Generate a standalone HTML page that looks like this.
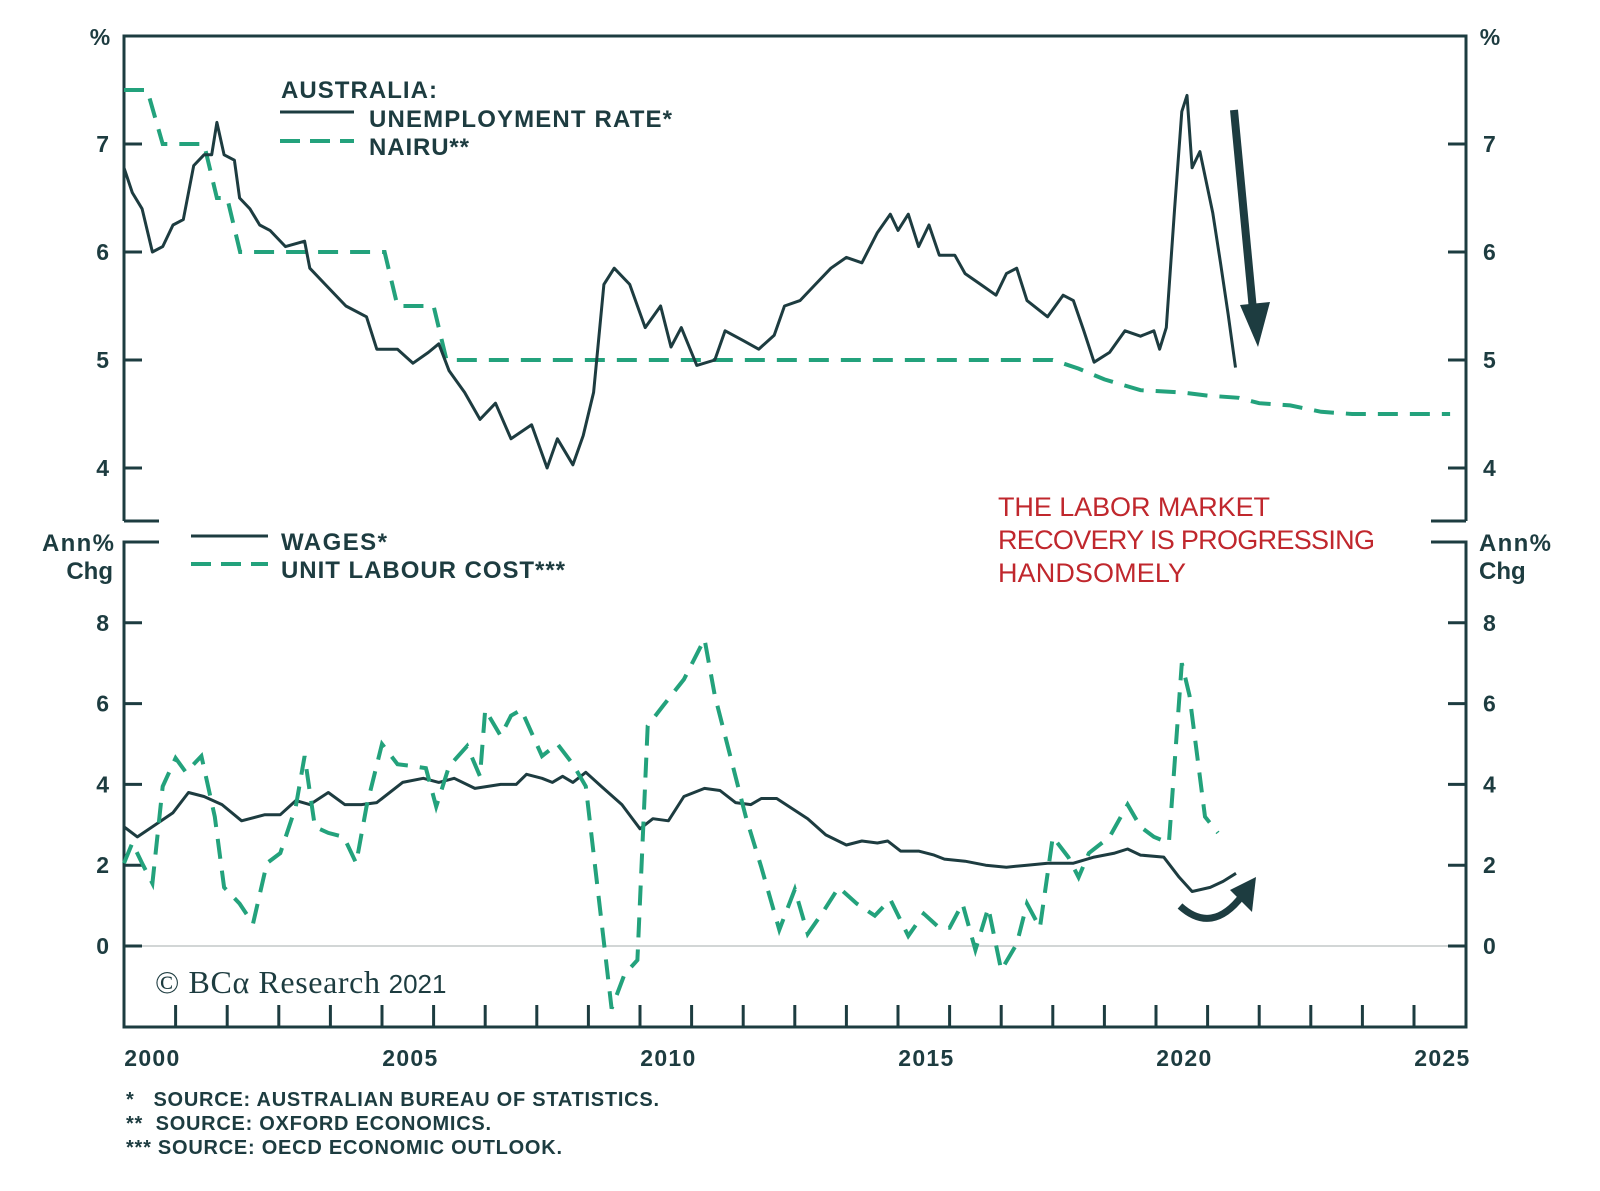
<!DOCTYPE html>
<html><head><meta charset="utf-8"><style>
html,body{margin:0;padding:0;background:#fff;}
svg{display:block;font-family:"Liberation Sans",Arial,sans-serif;}
.t{font-weight:bold;font-size:23px;fill:#1d3c40;}
.u{font-weight:bold;font-size:24px;fill:#1d3c40;}
.lg{font-weight:bold;font-size:24px;fill:#1d3c40;}
.fn{font-weight:bold;font-size:20px;fill:#1d3c40;}
.red{font-size:27px;fill:#c0272d;}
</style></head><body>
<svg id="chart" width="1600" height="1191" viewBox="0 0 1600 1191">
<g id="frame" stroke="#1d3c40" stroke-width="3" fill="none">
  <path d="M124 521 L124 36 L1466 36 L1466 521"/>
  <path d="M124 521 L159 521 M1466 521 L1431 521"/>
  <path d="M159 542 L124 542 L124 1027 L1466 1027 L1466 542 L1431 542"/>
</g>
<line x1="124" y1="946" x2="1466" y2="946" stroke="#c4c8c8" stroke-width="1.5"/>
<g id="ticks"></g>
<g id="series"></g>

<text class="t" x="100" y="45" text-anchor="middle">%</text>
<text class="t" x="1490" y="45" text-anchor="middle">%</text>
<text class="u" x="114" y="551" text-anchor="end" textLength="72">Ann%</text>
<text class="u" x="113" y="579" text-anchor="end">Chg</text>
<text class="u" x="1479" y="551" textLength="72">Ann%</text>
<text class="u" x="1479" y="579">Chg</text>

<g>
  <text class="lg" x="281" y="98" textLength="156">AUSTRALIA:</text>
  <line x1="280" y1="112" x2="354" y2="112" stroke="#1d3c40" stroke-width="3"/>
  <text class="lg" x="369" y="127" textLength="303">UNEMPLOYMENT RATE*</text>
  <line x1="280" y1="141" x2="354" y2="141" stroke="#23a27c" stroke-width="4" stroke-dasharray="20 10"/>
  <text class="lg" x="369" y="155" textLength="100">NAIRU**</text>
</g>
<g>
  <line x1="191" y1="536" x2="268" y2="536" stroke="#1d3c40" stroke-width="3"/>
  <text class="lg" x="281" y="550" textLength="106">WAGES*</text>
  <line x1="191" y1="564" x2="268" y2="564" stroke="#23a27c" stroke-width="4" stroke-dasharray="20 10"/>
  <text class="lg" x="281" y="578" textLength="284">UNIT LABOUR COST***</text>
</g>
<g>
  <text class="red" x="998" y="516" textLength="272">THE LABOR MARKET</text>
  <text class="red" x="998" y="549" textLength="377">RECOVERY IS PROGRESSING</text>
  <text class="red" x="998" y="582" textLength="188">HANDSOMELY</text>
</g>
<g>
  <line x1="1234" y1="110" x2="1253" y2="310" stroke="#1d3c40" stroke-width="8"/>
  <polygon points="1240,305 1270,302 1258,347" fill="#1d3c40"/>
</g>
<g>
  <path d="M1180 906 Q1212 935 1242 896" stroke="#1d3c40" stroke-width="7" fill="none"/>
  <polygon points="1230,890 1256,877 1252,912" fill="#1d3c40"/>
</g>
<text x="155" y="993" style="font-family:'Liberation Serif',serif;font-size:32px;fill:#1d3c40;"><tspan textLength="225">© BCα Research</tspan> <tspan style="font-family:'Liberation Sans',sans-serif;font-size:26px;">2021</tspan></text>
<g>
  <text class="fn" x="126" y="1106" textLength="533">*&#160;&#160; SOURCE: AUSTRALIAN BUREAU OF STATISTICS.</text>
  <text class="fn" x="126" y="1130" textLength="365">**&#160; SOURCE: OXFORD ECONOMICS.</text>
  <text class="fn" x="126" y="1154" textLength="436">*** SOURCE: OECD ECONOMIC OUTLOOK.</text>
</g>
</svg>
<script>
const topTicks = [4, 5, 6, 7];
const bottomTicks = [0, 2, 4, 6, 8];
const xLabels = [2000, 2005, 2010, 2015, 2020, 2025];
const unempYears = [2000,2000.16,2000.35,2000.55,2000.75,2000.95,2001.15,2001.35,2001.55,2001.7,2001.8,2001.94,2002.14,2002.24,2002.44,2002.63,2002.83,2003.13,2003.5,2003.6,2003.9,2004.3,2004.7,2004.9,2005.3,2005.6,2005.9,2006.1,2006.3,2006.6,2006.9,2007.2,2007.5,2007.9,2008.2,2008.4,2008.7,2008.9,2009.1,2009.3,2009.5,2009.8,2010.1,2010.4,2010.6,2010.8,2011.1,2011.45,2011.65,2012.0,2012.3,2012.6,2012.8,2013.1,2013.4,2013.7,2014.0,2014.3,2014.6,2014.85,2015.0,2015.2,2015.4,2015.6,2015.8,2016.1,2016.3,2016.6,2016.9,2017.1,2017.3,2017.5,2017.9,2018.2,2018.4,2018.6,2018.8,2019.1,2019.4,2019.7,2019.96,2020.07,2020.2,2020.36,2020.5,2020.6,2020.7,2020.85,2021.1,2021.25,2021.4,2021.54];
const unempValues = [6.78,6.55,6.4,6.0,6.05,6.25,6.3,6.8,6.9,6.9,7.2,6.9,6.85,6.5,6.4,6.25,6.2,6.05,6.1,5.85,5.7,5.5,5.4,5.1,5.1,4.97,5.07,5.15,4.9,4.7,4.45,4.6,4.27,4.4,4.0,4.27,4.03,4.3,4.7,5.7,5.85,5.7,5.3,5.5,5.12,5.3,4.95,5.0,5.27,5.18,5.1,5.23,5.5,5.55,5.7,5.85,5.95,5.9,6.18,6.35,6.2,6.35,6.05,6.25,5.97,5.97,5.8,5.7,5.6,5.8,5.85,5.55,5.4,5.6,5.55,5.27,4.98,5.07,5.27,5.22,5.27,5.1,5.3,6.4,7.3,7.45,6.78,6.93,6.36,5.9,5.42,4.93];
const nairuYears = [2000,2000.45,2000.75,2001.55,2001.8,2002.0,2002.25,2005.05,2005.3,2006.0,2006.25,2018.0,2018.5,2019.0,2019.7,2020.5,2021,2021.6,2022,2022.6,2023.2,2023.8,2025.7];
const nairuValues = [7.5,7.5,7.0,7.0,6.5,6.5,6.0,6.0,5.5,5.5,5.0,5.0,4.92,4.82,4.72,4.7,4.67,4.65,4.6,4.58,4.52,4.5,4.5];
const wageYears = [2000,2000.26,2000.55,2000.95,2001.25,2001.55,2001.9,2002.28,2002.73,2003.03,2003.33,2003.6,2003.96,2004.28,2004.6,2004.9,2005.4,2005.8,2006.1,2006.4,2006.8,2007.3,2007.6,2007.8,2008.1,2008.3,2008.5,2008.7,2008.95,2009.25,2009.65,2010.0,2010.25,2010.55,2010.85,2011.25,2011.55,2011.85,2012.15,2012.35,2012.65,2012.95,2013.25,2013.6,2014.0,2014.3,2014.6,2014.8,2015.05,2015.4,2015.7,2015.9,2016.3,2016.7,2017.1,2017.5,2017.9,2018.4,2018.8,2019.2,2019.45,2019.7,2020.15,2020.45,2020.7,2021.05,2021.3,2021.55];
const wageValues = [2.95,2.7,2.95,3.3,3.8,3.7,3.5,3.1,3.25,3.25,3.6,3.5,3.8,3.5,3.5,3.55,4.05,4.15,4.05,4.15,3.9,4.0,4.0,4.25,4.15,4.05,4.2,4.05,4.3,3.95,3.5,2.9,3.15,3.1,3.7,3.9,3.85,3.55,3.5,3.65,3.65,3.4,3.15,2.75,2.5,2.6,2.55,2.6,2.35,2.35,2.25,2.15,2.1,2.0,1.95,2.0,2.05,2.05,2.2,2.3,2.4,2.25,2.2,1.7,1.35,1.45,1.6,1.8];
const ulcYears = [2000,2000.16,2000.35,2000.55,2000.75,2001.0,2001.2,2001.5,2001.76,2001.94,2002.24,2002.5,2002.77,2003.03,2003.33,2003.5,2003.7,2003.96,2004.26,2004.5,2004.7,2005.0,2005.3,2005.6,2005.85,2006.05,2006.3,2006.65,2006.9,2007.0,2007.3,2007.5,2007.7,2008.1,2008.4,2008.7,2008.95,2009.2,2009.45,2009.7,2009.95,2010.15,2010.45,2010.85,2011.25,2011.45,2011.75,2012.05,2012.35,2012.7,2013.0,2013.25,2013.55,2013.85,2014.2,2014.55,2014.85,2015.2,2015.5,2015.8,2016.0,2016.25,2016.5,2016.75,2017.0,2017.3,2017.5,2017.75,2018.0,2018.3,2018.5,2018.7,2019.1,2019.45,2019.7,2019.96,2020.25,2020.5,2020.65,2020.95,2021.2];
const ulcValues = [2.05,2.55,2.05,1.55,3.95,4.65,4.3,4.7,3.2,1.45,1.05,0.55,2.05,2.3,3.45,4.7,2.95,2.8,2.7,2.05,3.45,5.0,4.5,4.45,4.4,3.45,4.45,4.95,4.2,5.85,5.2,5.7,5.85,4.7,5.0,4.5,3.95,1.2,-1.55,-0.7,-0.35,5.45,5.95,6.6,7.6,6.2,4.7,3.2,1.95,0.4,1.4,0.3,0.85,1.45,1.05,0.75,1.15,0.25,0.8,0.45,0.45,1.05,-0.1,0.95,-0.6,0.05,1.05,0.45,2.7,2.2,1.7,2.3,2.7,3.5,2.95,2.7,2.55,7.0,6.2,3.2,2.8];

const NS='http://www.w3.org/2000/svg';
function xs(yr){return 124+51.6*(yr-2000);}
function yTop(v){return 144+(7-v)*108;}
function yBot(v){return 946-v*40.4;}
function mk(tag,attrs,parent){const e=document.createElementNS(NS,tag);for(const k in attrs)e.setAttribute(k,attrs[k]);parent.appendChild(e);return e;}
const tg=document.getElementById('ticks');
const sg=document.getElementById('series');
const tickStyle={stroke:'#1d3c40','stroke-width':3};
topTicks.forEach(v=>{
  const y=yTop(v);
  const a=mk('line',Object.assign({x1:124,x2:142,y1:y,y2:y},tickStyle),tg);
  
  
  const b=mk('line',Object.assign({x1:1448,x2:1466,y1:y,y2:y},tickStyle),tg);
  
  
  const l=mk('text',{x:109,y:y+8,'text-anchor':'end',class:'t'},tg);l.textContent=v;
  
  
  const r=mk('text',{x:1483,y:y+8,class:'t'},tg);r.textContent=v;
  
  
});
bottomTicks.forEach(v=>{
  const y=yBot(v);
  const a=mk('line',Object.assign({x1:124,x2:142,y1:y,y2:y},tickStyle),tg);
  
  
  const b=mk('line',Object.assign({x1:1448,x2:1466,y1:y,y2:y},tickStyle),tg);
  
  
  const l=mk('text',{x:109,y:y+8,'text-anchor':'end',class:'t'},tg);l.textContent=v;
  
  
  const r=mk('text',{x:1483,y:y+8,class:'t'},tg);r.textContent=v;
  
  
});
for(let yr=2001;yr<=2025;yr++){
  const x=xs(yr);
  const t=mk('line',Object.assign({x1:x,x2:x,y1:1005,y2:1027},tickStyle),tg);
  
  
}
xLabels.forEach(yr=>{
  const t=mk('text',{x:xs(yr+0.5)+2,y:1066,'text-anchor':'middle',class:'t',textLength:55},tg);t.textContent=yr;
  
  
});
function path(xsArr,ysArr,yf){return xsArr.map((x,i)=>(i?'L':'M')+xs(x).toFixed(1)+' '+yf(ysArr[i]).toFixed(1)).join(' ');}
const p1=mk('path',{d:path(nairuYears,nairuValues,yTop),fill:'none',stroke:'#23a27c','stroke-width':4,'stroke-dasharray':'20 12'},sg);


const p2=mk('path',{d:path(unempYears,unempValues,yTop),fill:'none',stroke:'#1d3c40','stroke-width':3,'stroke-linejoin':'round'},sg);


const p3=mk('path',{d:path(wageYears,wageValues,yBot),fill:'none',stroke:'#1d3c40','stroke-width':3,'stroke-linejoin':'round'},sg);


const p4=mk('path',{d:path(ulcYears,ulcValues,yBot),fill:'none',stroke:'#23a27c','stroke-width':4,'stroke-dasharray':'20 12'},sg);


</script>
</body></html>
